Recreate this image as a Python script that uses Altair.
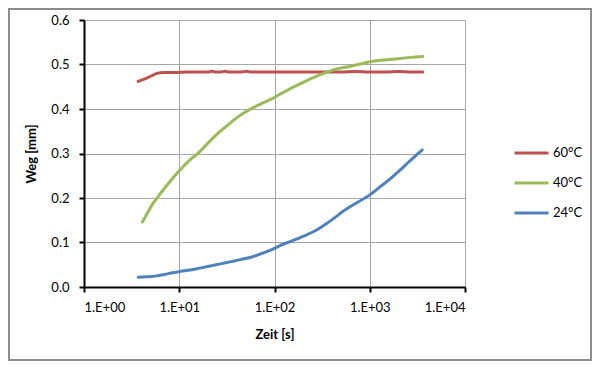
import altair as alt
import pandas as pd

# 60°C series
t60 = [3.7, 4.5, 5.3, 5.8, 7, 9, 12, 16, 20, 22, 24, 27, 30, 33, 38, 45, 51, 56, 70, 100, 150, 200, 300, 500, 700, 1000, 1500, 2000, 2700, 3600]
v60 = [0.462, 0.469, 0.476, 0.480, 0.482, 0.482, 0.483, 0.483, 0.483, 0.485, 0.483, 0.483, 0.485, 0.483, 0.483, 0.483, 0.485, 0.483, 0.483, 0.483, 0.483, 0.483, 0.483, 0.483, 0.484, 0.483, 0.483, 0.484, 0.483, 0.483]

# 40°C series
t40 = [4.1, 4.6, 5.2, 6, 7, 8.2, 10, 12, 13.5, 15.3, 18, 21, 26.7, 32, 40, 51, 65, 80, 96, 114, 150, 200, 270, 355, 450, 600, 800, 1000, 1400, 2000, 2700, 3600]
v40 = [0.146, 0.165, 0.185, 0.203, 0.222, 0.240, 0.261, 0.279, 0.289, 0.298, 0.313, 0.328, 0.349, 0.363, 0.380, 0.395, 0.407, 0.416, 0.424, 0.433, 0.447, 0.460, 0.473, 0.483, 0.490, 0.495, 0.501, 0.506, 0.510, 0.513, 0.516, 0.518]

# 24°C series
t24 = [3.7, 4.5, 5.8, 7, 8.5, 10.2, 13, 17, 22, 27, 35, 45, 59, 75, 96, 114, 150, 200, 277, 350, 430, 525, 700, 1000, 1300, 1700, 2090, 2600, 3100, 3550]
v24 = [0.022, 0.023, 0.025, 0.028, 0.032, 0.035, 0.038, 0.043, 0.048, 0.052, 0.057, 0.062, 0.068, 0.076, 0.085, 0.093, 0.103, 0.114, 0.128, 0.142, 0.156, 0.170, 0.187, 0.207, 0.226, 0.246, 0.263, 0.282, 0.297, 0.308]

series = ["60°C", "40°C", "24°C"]
colors = ["#C0504D", "#9BBB59", "#4F81BD"]
x_ticks = [1, 10, 100, 1000, 10000]
y_ticks = [0.0, 0.1, 0.2, 0.3, 0.4, 0.5, 0.6]

rows = []
for name, ts, vs in zip(series, [t60, t40, t24], [v60, v40, v24]):
    for i, (t, v) in enumerate(zip(ts, vs)):
        rows.append({"series": name, "t": t, "v": v, "i": i})
df = pd.DataFrame(rows)

FONT = "Lato"
W, H = 381, 267
PL, PT, PR, PB = 76, 12, 127, 74

lines = alt.Chart(df).mark_line(strokeWidth=3, strokeCap="round", strokeJoin="round",
                                interpolate="monotone", clip=True).encode(
    x=alt.X("t:Q",
            scale=alt.Scale(type="log", domain=[1, 10000]),
            axis=alt.Axis(values=x_ticks, title="Zeit [s]",
                          labelExpr="'1.E+0' + round(log(datum.value)/LN10)",
                          titlePadding=14, labelPadding=9)),
    y=alt.Y("v:Q",
            scale=alt.Scale(domain=[0, 0.6]),
            axis=alt.Axis(values=y_ticks, format=".1f", title="Weg [mm]",
                          titlePadding=12, labelPadding=10)),
    color=alt.Color("series:N",
                    scale=alt.Scale(domain=series, range=colors),
                    sort=series,
                    legend=alt.Legend(title=None, orient="none", legendX=429, legendY=120,
                                      symbolType="stroke", symbolSize=1156, symbolStrokeWidth=3,
                                      clipHeight=26, rowPadding=4, labelOffset=3,
                                      labelFontSize=13, labelFont=FONT, labelColor="#000")),
    detail="series:N",
    order="i:Q",
)

frame = alt.Chart(pd.DataFrame({"a": [0]})).mark_rect(
    fill="transparent", stroke="#8C8C8C", strokeWidth=2
).encode(
    x=alt.value(-PL + 1),
    x2=alt.value(W + PR - 1),
    y=alt.value(-PT + 1),
    y2=alt.value(H + PB - 1),
)

chart = alt.layer(lines, frame).properties(
    width=W, height=H,
    autosize=alt.AutoSizeParams(type="none"),
    padding={"left": PL, "top": PT, "right": PR, "bottom": PB},
).configure_view(stroke="transparent").configure_axis(
    labelFont=FONT, titleFont=FONT, labelFontSize=13, titleFontSize=13,
    labelColor="#000", titleColor="#000", titleFontWeight="bold",
    domainColor="#000", domainWidth=2, tickColor="#000", tickWidth=2, tickSize=5,
    gridColor="#A6A6A6", gridWidth=1,
)

chart.save("out.html", embed_options={"renderer": "svg", "actions": False})
